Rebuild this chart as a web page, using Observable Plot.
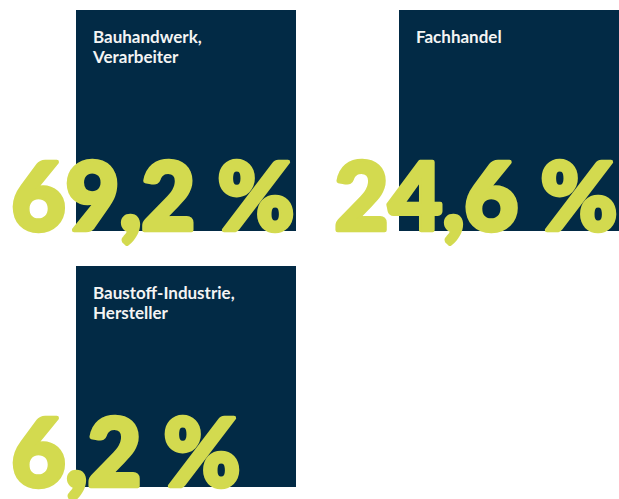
<!DOCTYPE html>
<html>
<head>
<meta charset="utf-8">
<script src="https://cdn.jsdelivr.net/npm/d3@7"></script>
<script src="https://cdn.jsdelivr.net/npm/@observablehq/plot@0.6"></script>
<style>
  html, body { margin: 0; padding: 0; background: #ffffff; }
  #chart svg { display: block; }
</style>
</head>
<body>
<div id="chart"></div>
<script>
const categories = ["Bauhandwerk,\nVerarbeiter", "Fachhandel", "Baustoff-Industrie,\nHersteller"];
const shares = [69.2, 24.6, 6.2];

const data = categories.map((c, i) => ({
  label: c,
  value: shares[i],
  col: i % 2,
  row: Math.floor(i / 2)
}));

const fmt = v => v.toFixed(1).replace(".", ",") + " %";

const navy = "#022a45";
const lime = "#d3da4f";

const chart = Plot.plot({
  width: 619,
  height: 499,
  margin: 0,
  style: { background: "#ffffff", overflow: "visible" },
  x: { type: "band", domain: [0, 1], range: [76, 619], paddingInner: 0.319, paddingOuter: 0, axis: null },
  y: { type: "band", domain: [0, 1], range: [10, 487], paddingInner: 0.137, paddingOuter: 0, axis: null },
  marks: [
    Plot.cell(data, { x: "col", y: "row", fill: navy, inset: 0 }),
    Plot.text(data, {
      x: "col", y: "row", text: "label",
      textAnchor: "start", lineAnchor: "top",
      dx: -93.5, dy: -92,
      fill: "#f4f4f4", fontFamily: "Lato", fontWeight: "bold", fontSize: 17, lineHeight: 1.18
    }),
    Plot.text(data, {
      x: "col", y: "row", text: d => fmt(d.value),
      textAnchor: "start", lineAnchor: "bottom",
      dx: -175, dy: 109,
      fill: lime, stroke: lime, strokeWidth: 4.5, strokeLinejoin: "round",
      fontFamily: "Lato", fontWeight: 900, fontSize: 93
    })
  ]
});
document.getElementById("chart").appendChild(chart);
</script>
</body>
</html>
